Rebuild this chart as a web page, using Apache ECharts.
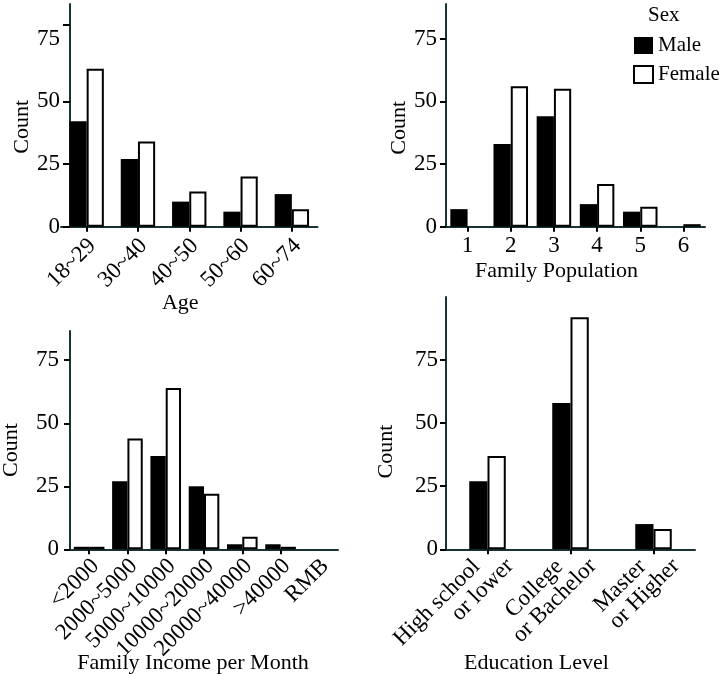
<!DOCTYPE html>
<html>
<head>
<meta charset="utf-8">
<script src="https://cdn.jsdelivr.net/npm/echarts@6/dist/echarts.min.js"></script>
<style>
    html, body { margin: 0; padding: 0; background: #fff; }
    #main { width: 723px; height: 674px; }
</style>
</head>
<body>
<div id="main"></div>
<script>
// data
const ageCats = ['18~29', '30~40', '40~50', '50~60', '60~74'];
const ageMale = [42, 27, 10, 6, 13];
const ageFemale = [63, 34, 14, 20, 7];

const famCats = ['1', '2', '3', '4', '5', '6'];
const famMale = [7, 33, 44, 9, 6, 0];
const famFemale = [0, 56, 55, 17, 8, 1];

const incomeCats = ['<2000', '2000~5000', '5000~10000', '10000~20000', '20000~40000', '>40000', 'RMB'];
const incomeMale = [1, 27, 37, 25, 2, 2, 0];
const incomeFemale = [1, 44, 64, 22, 5, 1, 0];

const eduCats = ['High school\nor lower', 'College\nor Bachelor', 'Master\nor Higher'];
const eduMale = [27, 58, 10];
const eduFemale = [37, 92, 8];

const countTicks = [0, 25, 50, 75];

const font = 'Liberation Serif';
const axisColor = '#173333';

let myChart = echarts.init(document.getElementById('main'));

function yAxis(grid, max, opts) {
    return {
        gridIndex: grid,
        type: 'value',
        min: 0,
        max: max,
        interval: 25,
        offset: opts.offset || 0,
        axisLine: { show: true, lineStyle: { color: axisColor, width: 2 } },
        axisTick: {
            show: true,
            length: opts.tickLen || 6,
            lineStyle: { color: '#000', width: 2 },
            customValues: opts.tickValues || countTicks
        },
        axisLabel: {
            customValues: countTicks,
            margin: opts.labelMargin,
            fontSize: 23,
            color: '#000',
            fontFamily: font
        },
        splitLine: { show: false },
        name: 'Count',
        nameLocation: 'middle',
        nameGap: opts.nameGap,
        nameTextStyle: {
            fontSize: 22,
            color: '#000',
            fontFamily: font,
            padding: [0, opts.nameShift, 0, 0]
        }
    };
}

function xAxis(grid, cats, name, opts) {
    return {
        gridIndex: grid,
        type: 'category',
        data: cats,
        axisLine: { show: true, lineStyle: { color: axisColor, width: 2 } },
        axisTick: {
            show: true,
            alignWithLabel: true,
            length: 5,
            interval: opts.tickInterval || 0,
            lineStyle: { color: '#000', width: 2 }
        },
        axisLabel: Object.assign({
            interval: 0,
            rotate: opts.rotate || 0,
            margin: opts.labelMargin,
            fontSize: 23,
            color: '#000',
            fontFamily: font
        }, opts.label || {}),
        name: name,
        nameLocation: 'middle',
        nameGap: opts.nameGap,
        nameMoveOverlap: false,
        nameTextStyle: {
            fontSize: 22,
            color: '#000',
            fontFamily: font,
            padding: [0, opts.nameShift, 0, 0]
        }
    };
}

// slanted labels: rich text so the box padding nudges them like the original
function slanted(padTop) {
    return {
        padding: [padTop, 0, 0, 0],
        formatter: function (v) {
            return v.split('\n').map(function (s, i) {
                return (i === 0 ? '{a|' : '{b|') + s + '}';
            }).join('\n');
        },
        rich: {
            a: { fontSize: 23, lineHeight: 23, fontFamily: font, color: '#000' },
            b: { fontSize: 23, lineHeight: 23, fontFamily: font, color: '#000' }
        }
    };
}

// empty groups (count 0) draw nothing
function bars(values) {
    return values.map(function (v) { return v === 0 ? '-' : v; });
}

function pair(idx, male, female, gap) {
    return [
        {
            name: 'Male', type: 'bar', xAxisIndex: idx, yAxisIndex: idx,
            data: bars(male), barGap: '0%', barCategoryGap: gap,
            itemStyle: { color: '#000', borderColor: '#000', borderWidth: 0 }
        },
        {
            name: 'Female', type: 'bar', xAxisIndex: idx, yAxisIndex: idx,
            data: bars(female), barGap: '0%', barCategoryGap: gap,
            itemStyle: { color: '#fff', borderColor: '#000', borderWidth: 2 }
        }
    ];
}

let eduLabel = slanted(40);
eduLabel.rich.a.padding = [0, 24, 0, 0];

let options = {
    animation: false,
    backgroundColor: '#fff',
    textStyle: { fontFamily: font },
    title: {
        text: 'Sex',
        left: 648,
        top: 5,
        padding: 0,
        textStyle: { fontSize: 21, fontWeight: 'normal', color: '#000', fontFamily: font }
    },
    legend: {
        orient: 'vertical',
        left: 633,
        top: 35,
        padding: 0,
        itemWidth: 19,
        itemHeight: 17,
        itemGap: 8,
        icon: 'rect',
        textStyle: { fontSize: 21, color: '#000', fontFamily: font },
        data: [
            { name: 'Male', itemStyle: { color: '#000', borderColor: '#000', borderWidth: 0 } },
            { name: 'Female', itemStyle: { color: '#fff', borderColor: '#000', borderWidth: 2 } }
        ]
    },
    grid: [
        { left: 61, top: 4, width: 256.5, height: 222.7, outerBoundsMode: 'none' },
        { left: 446, top: 4, width: 259, height: 222.7, outerBoundsMode: 'none' },
        { left: 70, top: 331, width: 268, height: 218.3, outerBoundsMode: 'none' },
        { left: 446, top: 297, width: 249, height: 252.3, outerBoundsMode: 'none' }
    ],
    xAxis: [
        xAxis(0, ageCats, 'Age', {
            rotate: 45, labelMargin: 10, nameGap: 66, nameShift: 18,
            label: slanted(16)
        }),
        xAxis(1, famCats, 'Family Population', { labelMargin: 8, nameGap: 34, nameShift: 38 }),
        xAxis(2, incomeCats, 'Family Income per Month', {
            rotate: 45, labelMargin: 7, nameGap: 103, nameShift: 22,
            tickInterval: function (i) { return i < incomeCats.length - 1; },
            label: slanted(18)
        }),
        xAxis(3, eduCats, 'Education Level', {
            rotate: 45, labelMargin: -9, nameGap: 103, nameShift: 68,
            label: eduLabel
        })
    ],
    yAxis: [
        yAxis(0, 88.8, { offset: -9, tickLen: 7, tickValues: [0, 25, 50, 80.5], labelMargin: 10, nameGap: 30, nameShift: 23 }),
        yAxis(1, 88.8, { labelMargin: 9, nameGap: 35, nameShift: 25 }),
        yAxis(2, 86.6, { labelMargin: 11, nameGap: 48, nameShift: 20 }),
        yAxis(3, 100, { labelMargin: 8, nameGap: 49, nameShift: 57 })
    ],
    series: [].concat(
        pair(0, ageMale, ageFemale, '33%'),
        pair(1, famMale, famFemale, '20%'),
        pair(2, incomeMale, incomeFemale, '20%'),
        pair(3, eduMale, eduFemale, '56%')
    )
};

myChart.setOption(options);
</script>
</body>
</html>
